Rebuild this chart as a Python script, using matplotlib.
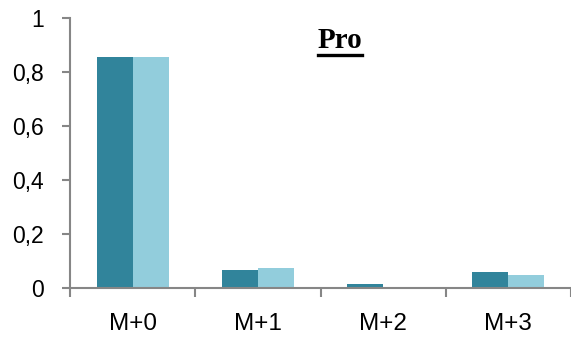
import matplotlib
matplotlib.use("Agg")
import matplotlib.pyplot as plt
from matplotlib.lines import Line2D
import numpy as np

categories = ["M+0", "M+1", "M+2", "M+3"]
series_dark = [0.855, 0.068, 0.014, 0.059]
series_light = [0.855, 0.074, 0.001, 0.048]
yticks = [0, 0.2, 0.4, 0.6, 0.8, 1]
ytick_labels = ["0", "0,2", "0,4", "0,6", "0,8", "1"]

DARK = "#31849B"
LIGHT = "#92CDDC"
AXIS = "#868686"

plt.rcParams['font.family'] = ['Liberation Sans', 'DejaVu Sans']

fig = plt.figure(figsize=(5.71, 3.38), dpi=100)
ax = fig.add_axes([70 / 571, 50 / 338, 501 / 571, 270 / 338])

x = np.arange(len(categories))
w = 0.288
ax.bar(x - w / 2, series_dark, width=w, color=DARK, zorder=2)
ax.bar(x + w / 2, series_light, width=w, color=LIGHT, zorder=2)

ax.set_xlim(-0.5, -0.5 + 501 / 126)
ax.set_ylim(0, 1)
ax.set_yticks(yticks)
ax.set_yticklabels(ytick_labels)
ax.set_xticks(x)
ax.set_xticklabels(categories)
ax.set_xticks(np.arange(len(categories) + 1) - 0.5, minor=True)

for side in ["top", "right"]:
    ax.spines[side].set_visible(False)
for side in ["left", "bottom"]:
    ax.spines[side].set_color(AXIS)
    ax.spines[side].set_linewidth(1.5)

ax.tick_params(axis="y", length=6, width=1.5, color=AXIS, labelsize=16.5, pad=13)
ax.tick_params(axis="x", which="major", length=0, labelsize=17.5, pad=18)
ax.tick_params(axis="x", which="minor", length=6.5, width=1.5, color=AXIS)

# title sits inside the plot area, bold serif, underlined
title = ax.text(1.655, 0.889, "Pro", ha="center", va="baseline",
                fontfamily="Liberation Serif", fontweight="bold", fontsize=21)
fig.canvas.draw()
bb = title.get_window_extent(renderer=fig.canvas.get_renderer())
inv = fig.transFigure.inverted()
(x0, y0), (x1, _) = inv.transform([(bb.x0, bb.y0), (bb.x1, bb.y0)])
uy = y0 - 1.5 / 338
fig.add_artist(Line2D([x0, x1], [uy, uy], transform=fig.transFigure,
                      color="black", linewidth=2.4))

fig.savefig("out.png", dpi=100)
